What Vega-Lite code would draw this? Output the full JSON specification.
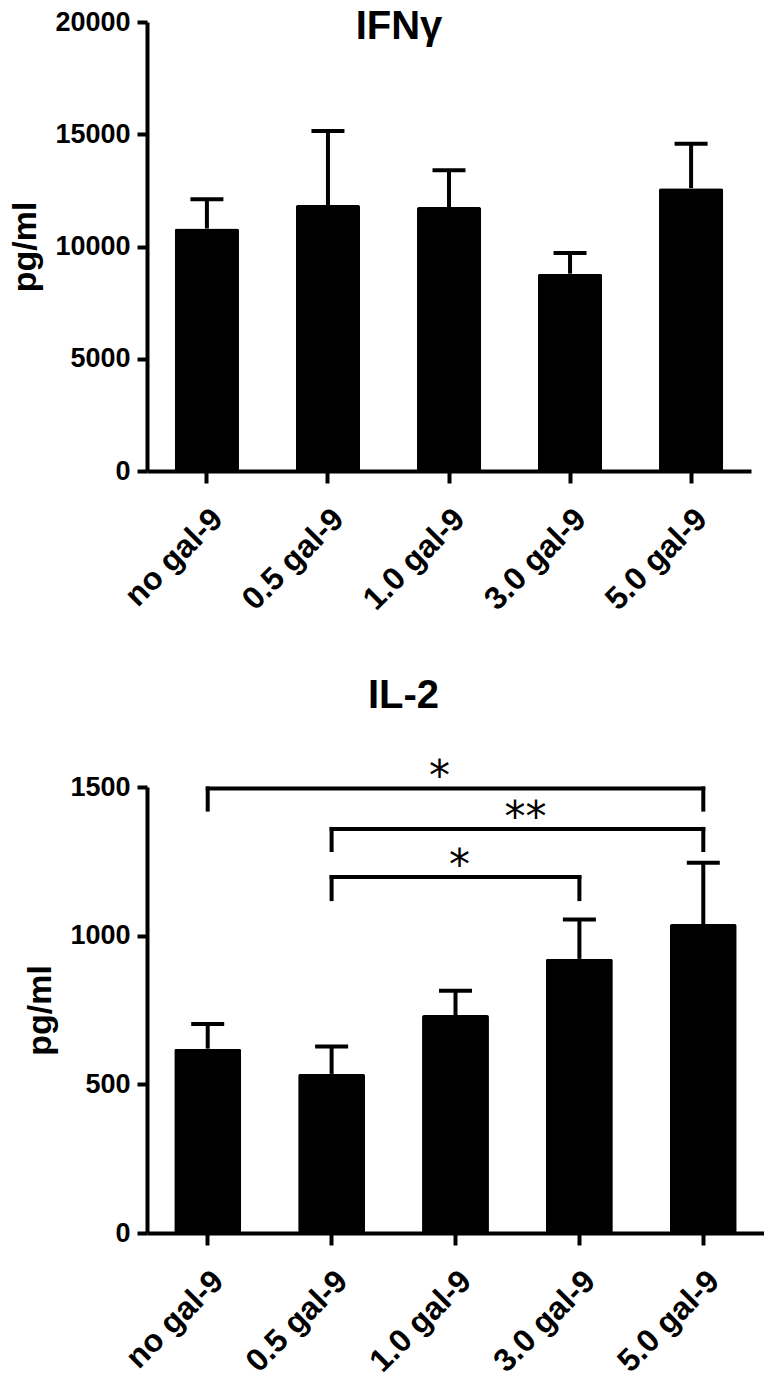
{
  "$schema": "https://vega.github.io/schema/vega-lite/v6.json",
  "background": "white",
  "padding": {"left": 8, "top": 7, "right": 5, "bottom": 5},
  "config": {
    "font": "Liberation Sans",
    "view": {"stroke": null},
    "axis": {
      "grid": false,
      "domainColor": "black",
      "domainWidth": 4,
      "tickColor": "black",
      "tickWidth": 4,
      "labelFont": "Liberation Sans",
      "labelFontWeight": "bold",
      "labelFontSize": 27,
      "labelColor": "black",
      "titleFont": "Liberation Sans",
      "titleFontWeight": "bold",
      "titleFontSize": 34,
      "titleColor": "black"
    },
    "axisY": {"tickSize": 10, "labelPadding": 7, "titlePadding": 12, "format": "d"},
    "axisX": {"tickSize": 12, "labelAngle": -45, "labelFontSize": 32, "labelPadding": 20, "title": null},
    "title": {"font": "Liberation Sans", "fontWeight": "bold", "fontSize": 40, "color": "black", "baseline": "alphabetic"}
  },
  "datasets": {
    "ifng": [
      {"group": "no gal-9", "mean": 10800, "upper": 12100},
      {"group": "0.5 gal-9", "mean": 11850, "upper": 15150},
      {"group": "1.0 gal-9", "mean": 11760, "upper": 13400},
      {"group": "3.0 gal-9", "mean": 8790, "upper": 9710},
      {"group": "5.0 gal-9", "mean": 12600, "upper": 14580}
    ],
    "il2": [
      {"group": "no gal-9", "mean": 620, "upper": 703},
      {"group": "0.5 gal-9", "mean": 535, "upper": 627},
      {"group": "1.0 gal-9", "mean": 733, "upper": 815},
      {"group": "3.0 gal-9", "mean": 922, "upper": 1054},
      {"group": "5.0 gal-9", "mean": 1039, "upper": 1245}
    ],
    "brackets": [
      {"id": 1, "start": "no gal-9", "end": "5.0 gal-9", "top": 1495, "bottom": 1424, "label": "*", "at": "1.0 gal-9"},
      {"id": 2, "start": "0.5 gal-9", "end": "5.0 gal-9", "top": 1359, "bottom": 1288, "label": "**", "at": "1.0 gal-9"},
      {"id": 3, "start": "0.5 gal-9", "end": "3.0 gal-9", "top": 1197, "bottom": 1123, "label": "*", "at": "1.0 gal-9"}
    ]
  },
  "concat": [
    {
      "width": 604,
      "height": 449,
      "title": {"text": "IFNγ", "anchor": "middle", "dx": -50, "offset": -39},
      "data": {"name": "ifng"},
      "layer": [
        {
          "mark": {"type": "bar", "color": "black", "cornerRadius": 2},
          "encoding": {
            "x": {"field": "group", "type": "nominal", "sort": null,
                  "scale": {"domain": ["no gal-9", "0.5 gal-9", "1.0 gal-9", "3.0 gal-9", "5.0 gal-9"], "paddingInner": 0.47, "paddingOuter": 0.23}},
            "y": {"field": "mean", "type": "quantitative", "title": "pg/ml",
                  "scale": {"domain": [0, 20000], "nice": false},
                  "axis": {"values": [0, 5000, 10000, 15000, 20000]}}
          }
        },
        {
          "mark": {"type": "rule", "color": "black", "strokeWidth": 4},
          "encoding": {
            "x": {"field": "group", "type": "nominal", "sort": null},
            "y": {"field": "mean", "type": "quantitative", "title": "pg/ml"},
            "y2": {"field": "upper"}
          }
        },
        {
          "mark": {"type": "tick", "orient": "horizontal", "color": "black", "size": 33, "thickness": 4, "opacity": 1},
          "encoding": {
            "x": {"field": "group", "type": "nominal", "sort": null},
            "y": {"field": "upper", "type": "quantitative", "title": "pg/ml"}
          }
        }
      ]
    },
    {
      "width": 617,
      "height": 446,
      "title": {"text": "IL-2", "anchor": "middle", "dx": -52, "offset": 40},
      "layer": [
        {
          "data": {"name": "il2"},
          "mark": {"type": "bar", "color": "black", "cornerRadius": 2},
          "encoding": {
            "x": {"field": "group", "type": "nominal", "sort": null,
                  "scale": {"domain": ["no gal-9", "0.5 gal-9", "1.0 gal-9", "3.0 gal-9", "5.0 gal-9"], "paddingInner": 0.46, "paddingOuter": 0.22}},
            "y": {"field": "mean", "type": "quantitative", "title": "pg/ml",
                  "scale": {"domain": [0, 1500], "nice": false},
                  "axis": {"values": [0, 500, 1000, 1500]}}
          }
        },
        {
          "data": {"name": "il2"},
          "mark": {"type": "rule", "color": "black", "strokeWidth": 4},
          "encoding": {
            "x": {"field": "group", "type": "nominal", "sort": null},
            "y": {"field": "mean", "type": "quantitative", "title": "pg/ml"},
            "y2": {"field": "upper"}
          }
        },
        {
          "data": {"name": "il2"},
          "mark": {"type": "tick", "orient": "horizontal", "color": "black", "size": 33, "thickness": 4, "opacity": 1},
          "encoding": {
            "x": {"field": "group", "type": "nominal", "sort": null},
            "y": {"field": "upper", "type": "quantitative", "title": "pg/ml"}
          }
        },
        {
          "data": {"name": "brackets"},
          "mark": {"type": "rule", "color": "black", "strokeWidth": 4, "strokeCap": "square"},
          "encoding": {
            "x": {"field": "start", "type": "nominal", "sort": null},
            "x2": {"field": "end"},
            "y": {"field": "top", "type": "quantitative", "title": "pg/ml"}
          }
        },
        {
          "data": {"name": "brackets"},
          "mark": {"type": "rule", "color": "black", "strokeWidth": 4, "strokeCap": "square"},
          "encoding": {
            "x": {"field": "start", "type": "nominal", "sort": null},
            "y": {"field": "top", "type": "quantitative", "title": "pg/ml"},
            "y2": {"field": "bottom"}
          }
        },
        {
          "data": {"name": "brackets"},
          "mark": {"type": "rule", "color": "black", "strokeWidth": 4, "strokeCap": "square"},
          "encoding": {
            "x": {"field": "end", "type": "nominal", "sort": null},
            "y": {"field": "top", "type": "quantitative", "title": "pg/ml"},
            "y2": {"field": "bottom"}
          }
        },
        {
          "data": {"name": "brackets"},
          "transform": [{"filter": "datum.id == 1"}],
          "mark": {"type": "text", "font": "DejaVu Sans", "fontSize": 42, "color": "black", "baseline": "alphabetic", "dx": -16, "dy": 2},
          "encoding": {
            "x": {"field": "at", "type": "nominal", "sort": null},
            "y": {"field": "top", "type": "quantitative", "title": "pg/ml"},
            "text": {"field": "label"}
          }
        },
        {
          "data": {"name": "brackets"},
          "transform": [{"filter": "datum.id == 2"}],
          "mark": {"type": "text", "font": "DejaVu Sans", "fontSize": 42, "color": "black", "baseline": "alphabetic", "dx": 70, "dy": 2},
          "encoding": {
            "x": {"field": "at", "type": "nominal", "sort": null},
            "y": {"field": "top", "type": "quantitative", "title": "pg/ml"},
            "text": {"field": "label"}
          }
        },
        {
          "data": {"name": "brackets"},
          "transform": [{"filter": "datum.id == 3"}],
          "mark": {"type": "text", "font": "DejaVu Sans", "fontSize": 42, "color": "black", "baseline": "alphabetic", "dx": 4, "dy": 2},
          "encoding": {
            "x": {"field": "at", "type": "nominal", "sort": null},
            "y": {"field": "top", "type": "quantitative", "title": "pg/ml"},
            "text": {"field": "label"}
          }
        }
      ]
    }
  ],
  "columns": 1,
  "align": "none",
  "spacing": 60
}
